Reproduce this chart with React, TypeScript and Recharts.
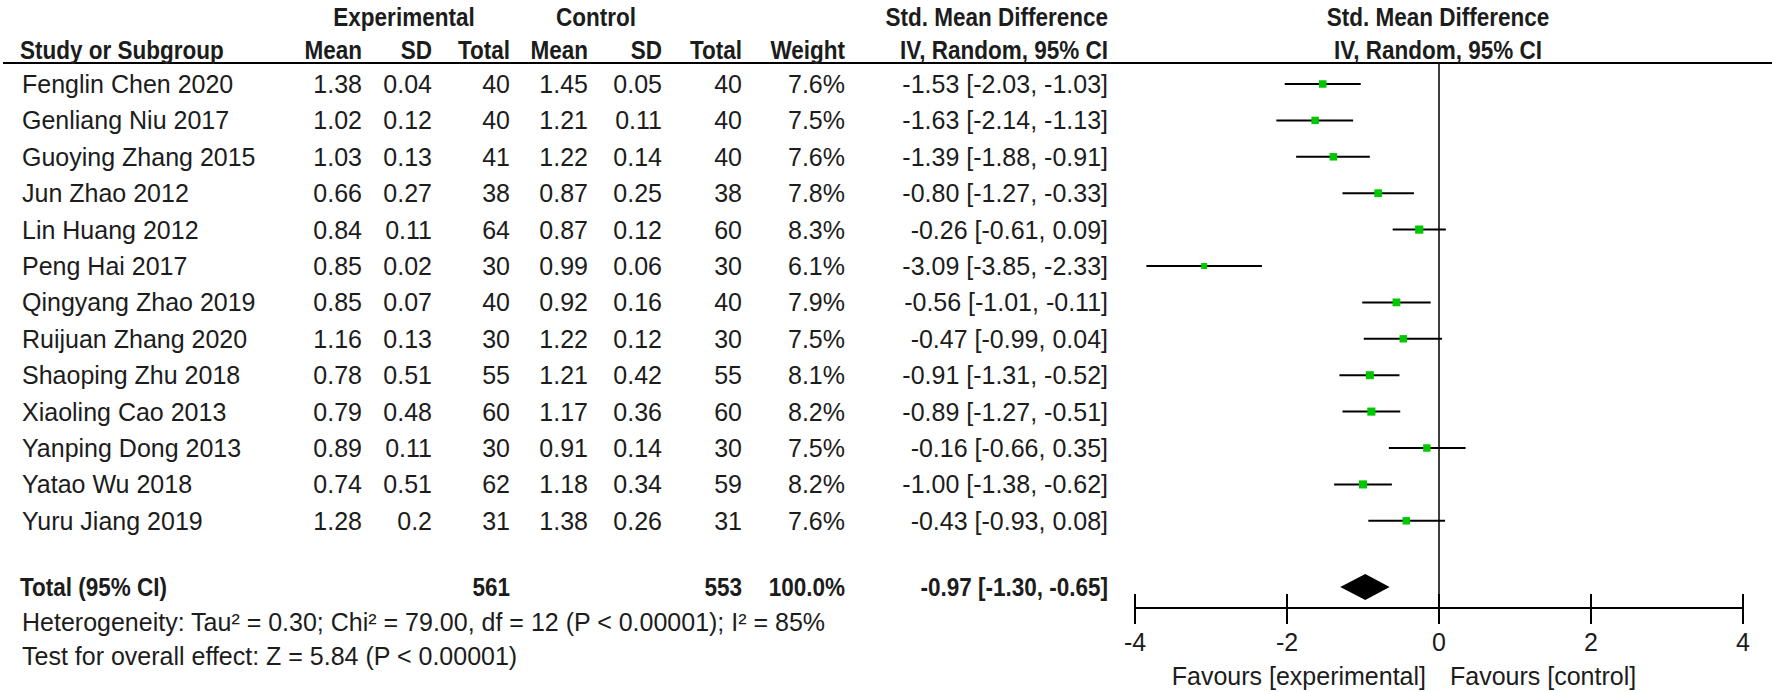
import React from "react";
import {
  ErrorBar,
  ReferenceLine,
  Scatter,
  ScatterChart,
  XAxis,
  YAxis,
} from "recharts";

const studies = [
  "Fenglin Chen 2020",
  "Genliang Niu 2017",
  "Guoying Zhang 2015",
  "Jun Zhao 2012",
  "Lin Huang 2012",
  "Peng Hai 2017",
  "Qingyang Zhao 2019",
  "Ruijuan Zhang 2020",
  "Shaoping Zhu 2018",
  "Xiaoling Cao 2013",
  "Yanping Dong 2013",
  "Yatao Wu 2018",
  "Yuru Jiang 2019",
];
const expMean = [1.38, 1.02, 1.03, 0.66, 0.84, 0.85, 0.85, 1.16, 0.78, 0.79, 0.89, 0.74, 1.28];
const expSD = [0.04, 0.12, 0.13, 0.27, 0.11, 0.02, 0.07, 0.13, 0.51, 0.48, 0.11, 0.51, 0.2];
const expTotal = [40, 40, 41, 38, 64, 30, 40, 30, 55, 60, 30, 62, 31];
const ctrlMean = [1.45, 1.21, 1.22, 0.87, 0.87, 0.99, 0.92, 1.22, 1.21, 1.17, 0.91, 1.18, 1.38];
const ctrlSD = [0.05, 0.11, 0.14, 0.25, 0.12, 0.06, 0.16, 0.12, 0.42, 0.36, 0.14, 0.34, 0.26];
const ctrlTotal = [40, 40, 40, 38, 60, 30, 40, 30, 55, 60, 30, 59, 31];
const weight = [7.6, 7.5, 7.6, 7.8, 8.3, 6.1, 7.9, 7.5, 8.1, 8.2, 7.5, 8.2, 7.6];
const smd = [-1.53, -1.63, -1.39, -0.8, -0.26, -3.09, -0.56, -0.47, -0.91, -0.89, -0.16, -1.0, -0.43];
const ciLow = [-2.03, -2.14, -1.88, -1.27, -0.61, -3.85, -1.01, -0.99, -1.31, -1.27, -0.66, -1.38, -0.93];
const ciHigh = [-1.03, -1.13, -0.91, -0.33, 0.09, -2.33, -0.11, 0.04, -0.52, -0.51, 0.35, -0.62, 0.08];

const totalExp = 561;
const totalCtrl = 553;
const totalWeight = 100.0;
const totalSmd = -0.97;
const totalLow = -1.3;
const totalHigh = -0.65;

const xTicks = [-4, -2, 0, 2, 4];
const heterogeneity = "Heterogeneity: Tau\u00b2 = 0.30; Chi\u00b2 = 79.00, df = 12 (P < 0.00001); I\u00b2 = 85%";
const overallTest = "Test for overall effect: Z = 5.84 (P < 0.00001)";

// layout (pixels)
const W = 1772;
const H = 692;
const TOP = 63;
const AXIS_Y = 608;
const ROW0 = 84;
const ROWH = 36.4;
const TOTAL_Y = 587;
const PLOT_L = 1135;
const PLOT_R = 1743;
const FONT = "'Liberation Sans', Arial, sans-serif";
const INK = "#1c1c1c";

const rowY = (i: number) => ROW0 + ROWH * i;
const toRow = (px: number) => (px - ROW0) / ROWH;
const totalRow = toRow(TOTAL_Y);
const diamondHalf = 0.36;

const ci = (m: number, lo: number, hi: number) =>
  `${m.toFixed(2)} [${lo.toFixed(2)}, ${hi.toFixed(2)}]`;

const studyData = studies.map((name, i) => ({
  name,
  x: smd[i],
  y: i,
  err: [smd[i] - ciLow[i], ciHigh[i] - smd[i]],
  w: weight[i],
}));

const diamondData = [
  { x: totalLow, y: totalRow },
  { x: totalSmd, y: totalRow - diamondHalf },
  { x: totalHigh, y: totalRow },
  { x: totalSmd, y: totalRow + diamondHalf },
];

type TProps = {
  x: number;
  y: number;
  a?: "start" | "end" | "middle";
  bold?: boolean;
  children: React.ReactNode;
};

function T({ x, y, a = "start", bold, children }: TProps) {
  const tx = a === "end" ? "-100%" : a === "middle" ? "-50%" : "0";
  return (
    <div
      style={{
        position: "absolute",
        left: x,
        top: y,
        transform: `translate(${tx}, -50%)` + (bold ? " scaleX(0.9)" : ""),
        transformOrigin: a === "end" ? "right center" : a === "middle" ? "center" : "left center",
        fontFamily: FONT,
        fontSize: 25,
        fontWeight: bold ? "bold" : "normal",
        color: INK,
        whiteSpace: "nowrap",
        lineHeight: 1,
      }}
    >
      {children}
    </div>
  );
}

const cols = [362, 432, 510, 588, 662, 742, 845, 1108];

const StudyBox = (props: any) => {
  const { cx, cy, payload } = props;
  const s = (7.5 * payload.w) / 7.6;
  return <rect x={cx - s / 2} y={cy - s / 2} width={s} height={s} fill="#00c800" />;
};

const AxisTick = (props: any) => {
  const { x, y, payload } = props;
  return (
    <g>
      <line x1={x} x2={x} y1={y - 14} y2={y + 16} stroke="#000" strokeWidth={2} />
      <text
        x={x}
        y={y + 34}
        textAnchor="middle"
        dominantBaseline="central"
        fontFamily={FONT}
        fontSize={25}
        fill={INK}
      >
        {payload.value}
      </text>
    </g>
  );
};

export default function App() {
  return (
    <div style={{ position: "relative", width: W, height: H, background: "#fff", overflow: "hidden" }}>
      <style>{"body{margin:0}"}</style>
      <ScatterChart
        width={W}
        height={H}
        margin={{ top: TOP, right: W - PLOT_R, bottom: 22, left: PLOT_L }}
      >
        <XAxis
          type="number"
          dataKey="x"
          domain={[-4, 4]}
          ticks={xTicks}
          height={H - 22 - AXIS_Y}
          axisLine={{ stroke: "#000", strokeWidth: 2 }}
          tickLine={false}
          tickSize={0}
          tickMargin={0}
          tick={<AxisTick />}
          allowDataOverflow
        />
        <YAxis
          type="number"
          dataKey="y"
          domain={[toRow(TOP), toRow(AXIS_Y)]}
          reversed
          hide
          width={0}
          allowDataOverflow
        />
        <ReferenceLine x={0} stroke="#000" strokeWidth={1.5} />
        <Scatter
          data={diamondData}
          isAnimationActive={false}
          shape={() => <g />}
          line={(p: any) => (
            <polygon
              points={p.points.map((pt: any) => `${pt.x},${pt.y}`).join(" ")}
              fill="#000"
              stroke="none"
            />
          )}
        />
        <Scatter data={studyData} isAnimationActive={false} shape={<StudyBox />}>
          <ErrorBar
            dataKey="err"
            direction="x"
            width={0}
            stroke="#000"
            strokeWidth={2}
            isAnimationActive={false}
          />
        </Scatter>
      </ScatterChart>

      <div style={{ position: "absolute", left: 3, top: TOP - 1, width: W - 3, height: 2, background: "#000" }} />

      <T x={404} y={17} a="middle" bold>Experimental</T>
      <T x={596} y={17} a="middle" bold>Control</T>
      <T x={1108} y={17} a="end" bold>Std. Mean Difference</T>
      <T x={1438} y={17} a="middle" bold>Std. Mean Difference</T>

      <T x={20} y={50} bold>Study or Subgroup</T>
      {["Mean", "SD", "Total", "Mean", "SD", "Total", "Weight", "IV, Random, 95% CI"].map((h, k) => (
        <T key={k} x={cols[k]} y={50} a="end" bold>{h}</T>
      ))}
      <T x={1438} y={50} a="middle" bold>IV, Random, 95% CI</T>

      {studies.map((name, i) => {
        const y = rowY(i);
        const vals = [
          String(expMean[i]),
          String(expSD[i]),
          String(expTotal[i]),
          String(ctrlMean[i]),
          String(ctrlSD[i]),
          String(ctrlTotal[i]),
          weight[i].toFixed(1) + "%",
          ci(smd[i], ciLow[i], ciHigh[i]),
        ];
        return (
          <React.Fragment key={name}>
            <T x={22} y={y}>{name}</T>
            {vals.map((v, k) => (
              <T key={k} x={cols[k]} y={y} a="end">{v}</T>
            ))}
          </React.Fragment>
        );
      })}

      <T x={20} y={TOTAL_Y} bold>Total (95% CI)</T>
      <T x={cols[2]} y={TOTAL_Y} a="end" bold>{totalExp}</T>
      <T x={cols[5]} y={TOTAL_Y} a="end" bold>{totalCtrl}</T>
      <T x={cols[6]} y={TOTAL_Y} a="end" bold>{totalWeight.toFixed(1)}%</T>
      <T x={cols[7]} y={TOTAL_Y} a="end" bold>{ci(totalSmd, totalLow, totalHigh)}</T>

      <T x={22} y={622}>{heterogeneity}</T>
      <T x={22} y={656}>{overallTest}</T>

      <T x={1426} y={676} a="end">Favours [experimental]</T>
      <T x={1450} y={676}>Favours [control]</T>
    </div>
  );
}
